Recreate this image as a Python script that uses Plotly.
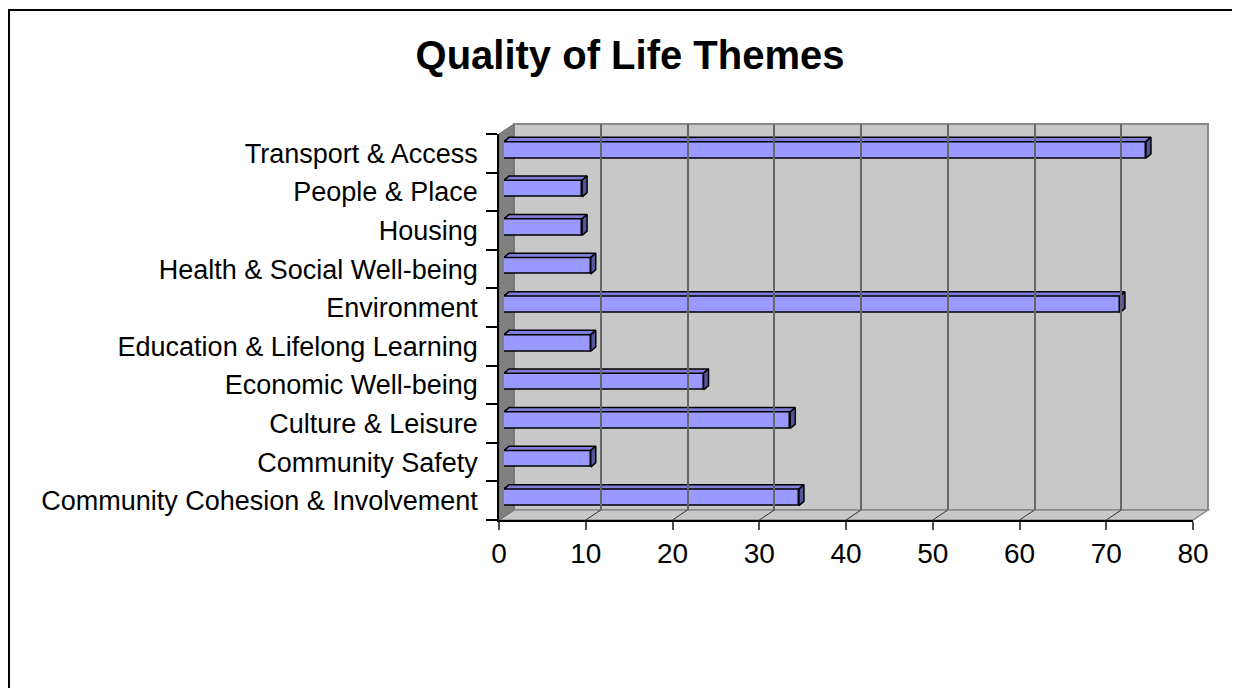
import plotly.graph_objects as go

# ---------------- data ----------------
categories = [
    "Community Cohesion & Involvement",
    "Community Safety",
    "Culture & Leisure",
    "Economic Well-being",
    "Education & Lifelong Learning",
    "Environment",
    "Health & Social Well-being",
    "Housing",
    "People & Place",
    "Transport & Access",
]
values = [34, 10, 33, 23, 10, 71, 10, 9, 9, 74]
x_ticks = [0, 10, 20, 30, 40, 50, 60, 70, 80]
title_text = "Quality of Life Themes"

# ---------------- geometry (pixels, page coordinates) ----------------
W, H = 1240, 688
OFF = 8                           # page body margin
FRONT_L, FRONT_R = 499, 1193     # front plane x extent
FRONT_T, FRONT_B = 134, 520      # front plane y extent
DX, DY = 15, 10                  # full depth offset
PAPER_L, PAPER_R = FRONT_L, FRONT_R + DX
PAPER_T, PAPER_B = FRONT_T - DY, FRONT_B
PW, PH = PAPER_R - PAPER_L, PAPER_B - PAPER_T
XMAX = 80
NCAT = len(categories)
BAR_W = 0.43
FRONT_W = FRONT_R - FRONT_L
FRONT_H = FRONT_B - FRONT_T


def px(x):
    return (x - PAPER_L) / PW


def py(y):
    return (PAPER_B - y) / PH


# depth layers: bars sit at 1/3 of the depth, 1/3 thick
bar_dx, bar_dy = DX / 3.0, DY / 3.0
bx = bar_dx / FRONT_W * XMAX           # bar depth in x data units
by = (bar_dy + 1) / (FRONT_H / NCAT)   # bar depth in y data units

FONT = "Liberation Sans, Arial, sans-serif"
BAR_COL = "#9999FF"
TOP_COL = "#7F7FD9"
END_COL = "#55559A"
WALL = "#C8C8C8"

fig = go.Figure()

idx = list(range(NCAT))

# front faces
fig.add_trace(go.Bar(
    x=values, y=idx, orientation="h", width=BAR_W,
    marker=dict(color=BAR_COL, line=dict(color="black", width=1.5)),
    xaxis="x2", yaxis="y2", hoverinfo="x+text",
    text=categories, textposition="none", showlegend=False,
))

# top faces and end caps
top_x, top_y, end_x, end_y = [], [], [], []
for i, v in zip(idx, values):
    t = i + BAR_W / 2
    b = i - BAR_W / 2
    top_x += [0, v, v + bx, bx, 0, None]
    top_y += [t, t, t + by, t + by, t, None]
    end_x += [v, v + bx, v + bx, v, v, None]
    end_y += [b, b + by, t + by, t, b, None]

fig.add_trace(go.Scatter(
    x=top_x, y=top_y, mode="lines", fill="toself", fillcolor=TOP_COL,
    line=dict(color="black", width=1.5), xaxis="x2", yaxis="y2",
    hoverinfo="skip", showlegend=False,
))
fig.add_trace(go.Scatter(
    x=end_x, y=end_y, mode="lines", fill="toself", fillcolor=END_COL,
    line=dict(color="black", width=1.5), xaxis="x2", yaxis="y2",
    hoverinfo="skip", showlegend=False,
))

# invisible traces so the back and front axes are drawn
fig.add_trace(go.Scatter(x=[0, XMAX], y=[0, 1], mode="markers",
                         marker=dict(opacity=0), xaxis="x3", yaxis="y3",
                         hoverinfo="skip", showlegend=False))
fig.add_trace(go.Scatter(x=[0, XMAX], y=[-0.5, NCAT - 0.5], mode="markers",
                         marker=dict(opacity=0), xaxis="x", yaxis="y",
                         hoverinfo="skip", showlegend=False))

shapes = []
# back wall
shapes.append(dict(type="rect", xref="paper", yref="paper",
                   x0=px(FRONT_L + DX), x1=px(FRONT_R + DX),
                   y0=py(FRONT_B - DY), y1=py(FRONT_T - DY),
                   fillcolor=WALL, line=dict(color="#8A8A8A", width=2),
                   layer="below"))
# floor
shapes.append(dict(type="path", xref="paper", yref="paper",
                   path=f"M {px(FRONT_L)} {py(FRONT_B)} L {px(FRONT_R)} {py(FRONT_B)} "
                        f"L {px(FRONT_R + DX)} {py(FRONT_B - DY)} L {px(FRONT_L + DX)} {py(FRONT_B - DY)} Z",
                   fillcolor=WALL, line=dict(color="#8A8A8A", width=1.5),
                   layer="below"))
# left wall
shapes.append(dict(type="path", xref="paper", yref="paper",
                   path=f"M {px(FRONT_L)} {py(FRONT_B)} L {px(FRONT_L)} {py(FRONT_T)} "
                        f"L {px(FRONT_L + DX)} {py(FRONT_T - DY)} L {px(FRONT_L + DX)} {py(FRONT_B - DY)} Z",
                   fillcolor="#808080", line=dict(color="#6A6A6A", width=1),
                   layer="below"))
# floor grid diagonals
for v in x_ticks[1:-1]:
    xf = FRONT_L + v / XMAX * FRONT_W
    shapes.append(dict(type="line", xref="paper", yref="paper",
                       x0=px(xf), y0=py(FRONT_B), x1=px(xf + DX), y1=py(FRONT_B - DY),
                       line=dict(color="#303030", width=1), layer="below"))
# outer border (top and left visible)
shapes.append(dict(type="rect", xref="paper", yref="paper",
                   x0=px(OFF + 1), x1=px(W + 20), y0=py(H + 20), y1=py(10),
                   line=dict(color="black", width=2), layer="below"))

fig.update_layout(
    width=W, height=H,
    margin=dict(l=PAPER_L - OFF, r=W - (PAPER_R - OFF),
                t=PAPER_T - OFF, b=H - (PAPER_B - OFF), pad=0),
    paper_bgcolor="white", plot_bgcolor="rgba(0,0,0,0)",
    showlegend=False,
    title=dict(text=title_text, x=(630 - OFF) / W, xanchor="center",
               y=1 - (55 - OFF) / H, yanchor="middle", yref="container",
               font=dict(family=FONT, size=40, color="black", weight="bold")),
    shapes=shapes,
    bargap=0,
    # front plane axes
    xaxis=dict(domain=[0, px(FRONT_R)], range=[0, XMAX], anchor="y",
               tickvals=x_ticks, ticktext=[str(t) for t in x_ticks],
               ticks="outside", ticklen=8, tickwidth=1.5, tickcolor="#505050",
               showline=True, linecolor="black", linewidth=1.5,
               showgrid=False, zeroline=False, ticklabelstandoff=0,
               tickfont=dict(family=FONT, size=28, color="black")),
    yaxis=dict(domain=[0, py(FRONT_T)], range=[-0.5, NCAT - 0.5], anchor="x",
               tickvals=idx, ticktext=categories, ticks="",
               minor=dict(tickmode="array", tickvals=[i - 0.5 for i in range(NCAT + 1)],
                          ticks="outside", ticklen=11, tickwidth=1.5, tickcolor="black",
                          showgrid=False),
               showline=True, linecolor="black", linewidth=1.5,
               showgrid=False, zeroline=False, ticklabelstandoff=14,
               tickfont=dict(family=FONT, size=27, color="black")),
    # bar layer axes (1/3 depth)
    xaxis2=dict(domain=[px(FRONT_L + bar_dx), px(FRONT_R + bar_dx)], range=[0, XMAX],
                anchor="y2", visible=False),
    yaxis2=dict(domain=[py(FRONT_B - bar_dy), py(FRONT_T - bar_dy)],
                range=[-0.5, NCAT - 0.5], anchor="x2", visible=False),
    # back wall axes
    xaxis3=dict(domain=[px(FRONT_L + DX), px(FRONT_R + DX)], range=[0, XMAX],
                anchor="y3", showgrid=True, gridcolor="#666666", gridwidth=2,
                tickvals=x_ticks, showticklabels=False, ticks="",
                zeroline=False, showline=False),
    yaxis3=dict(domain=[py(FRONT_B - DY), py(FRONT_T - DY)], range=[0, 1],
                anchor="x3", showgrid=False, showticklabels=False, ticks="",
                zeroline=False, showline=False),
)

fig.write_html("out.html")
